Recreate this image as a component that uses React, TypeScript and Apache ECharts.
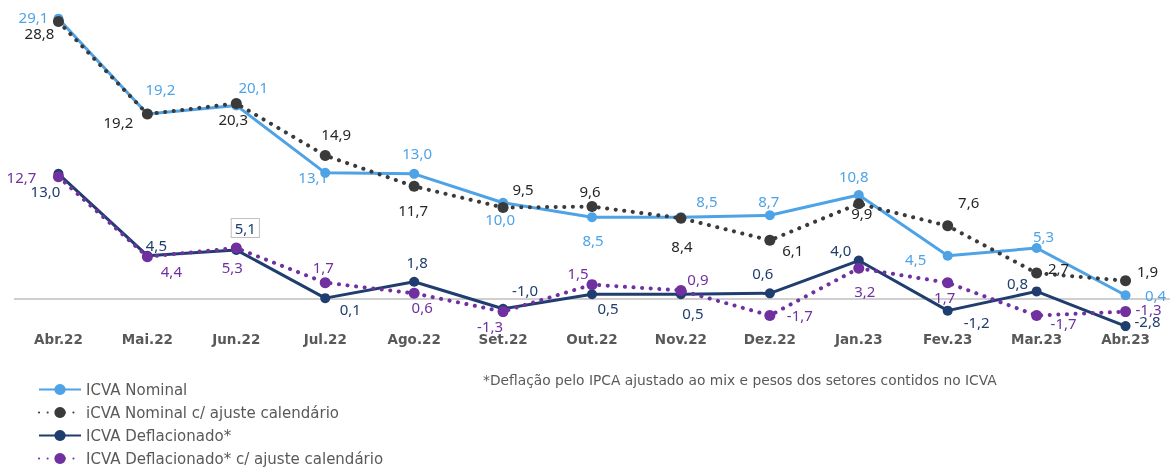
import React, { useEffect, useRef } from "react";
import * as echarts from "echarts";

const categories = ["Abr.22", "Mai.22", "Jun.22", "Jul.22", "Ago.22", "Set.22", "Out.22", "Nov.22", "Dez.22", "Jan.23", "Fev.23", "Mar.23", "Abr.23"];
const nominal = [29.1, 19.2, 20.1, 13.1, 13.0, 10.0, 8.5, 8.5, 8.7, 10.8, 4.5, 5.3, 0.4];
const nominalAjuste = [28.8, 19.2, 20.3, 14.9, 11.7, 9.5, 9.6, 8.4, 6.1, 9.9, 7.6, 2.7, 1.9];
const deflacionado = [13.0, 4.5, 5.1, 0.1, 1.8, -1.0, 0.5, 0.5, 0.6, 4.0, -1.2, 0.8, -2.8];
const deflacionadoAjuste = [12.7, 4.4, 5.3, 1.7, 0.6, -1.3, 1.5, 0.9, -1.7, 3.2, 1.7, -1.7, -1.3];

const seriesNames = [
  "ICVA Nominal",
  "iCVA Nominal c/ ajuste calendário",
  "ICVA Deflacionado*",
  "ICVA Deflacionado* c/ ajuste calendário",
];
const footnote = "*Deflação pelo IPCA ajustado ao mix e pesos dos setores contidos no ICVA";

// label offsets (relative to each point), styling only
const offNominal = [[-25, -2], [13, -25], [17, -18], [-12, 4], [3, -21], [-3, 16], [1, 23], [26, -16], [-1, -14], [-5, -19], [-32, 3], [7, -12], [30, 0]];
const offNominalAjuste = [[-19, 11], [-29, 8], [-3, 16], [11, -22], [-1, 24], [20, -19], [-2, -16], [1, 28], [23, 10], [3, 9], [21, -24], [22, -5], [22, -10]];
const offDefl = [[-13, 17], [9, -11], [9, -22], [25, 11], [3, -20], [22, -19], [16, 14], [12, 19], [-7, -20], [-18, -11], [29, 11], [-19, -8], [22, -5]];
const offDeflAjuste = [[-37, 0], [24, 14], [-4, 19], [-2, -16], [8, 14], [-13, 14], [-14, -12], [17, -11], [30, 0], [6, 23], [-3, 14], [27, 8], [23, -3]];

const FONT = "Noto Sans";
const WIDE = "DejaVu Sans";
const fmt = (v: number) => v.toFixed(1).replace(".", ",");

function buildData(values: number[], offsets: number[][], boxed?: number) {
  return values.map((v, i) => {
    const [dx, dy] = offsets[i];
    const item: any = {
      value: v,
      label: { offset: [dx, dy] },
    };
    if (boxed === i) {
      item.label.backgroundColor = "#ffffff";
      item.label.borderColor = "#bfbfbf";
      item.label.borderWidth = 1;
      item.label.padding = [2, 3, 1, 3];
    }
    return item;
  });
}

export default function App() {
  const ref = useRef<HTMLDivElement>(null);
  useEffect(() => {
    if (!ref.current) return;
    const chart = echarts.init(ref.current, undefined, { renderer: "svg" });
    const colors = ["#4ea3e6", "#3a3a3a", "#1f3d6e", "#7030a0"];
    const labelColors = ["#4ea3e6", "#262626", "#1f3d6e", "#7030a0"];
    const mk = (idx: number, values: number[], offs: number[][], dotted: boolean, boxed?: number) => ({
      name: seriesNames[idx],
      type: "line",
      data: buildData(values, offs, boxed),
      symbol: "circle",
      symbolSize: dotted ? 11 : 10,
      z: 2 + idx,
      itemStyle: { color: colors[idx] },
      lineStyle: dotted
        ? { color: colors[idx], width: 4, type: [0.1, 8.5], cap: "round" }
        : { color: colors[idx], width: 3 },
      label: {
        show: true,
        position: "inside",
        color: labelColors[idx],
        fontFamily: FONT,
        fontSize: 15,
        formatter: (p: any) => fmt(p.value),
      },
    });
    const s0: any = mk(0, nominal, offNominal, false);
    s0.markLine = {
      silent: true,
      symbol: "none",
      label: { show: false },
      lineStyle: { color: "#bfbfbf", width: 1.5, type: "solid" },
      data: [{ yAxis: 0 }],
      z: 1,
    };
    chart.setOption({
      animation: false,
      textStyle: { fontFamily: FONT },
      grid: { left: 14, right: 0, top: 10, height: 318 },
      xAxis: {
        type: "category",
        data: categories,
        axisLine: { show: false },
        axisTick: { show: false },
        axisLabel: { color: "#595959", fontWeight: "bold", fontSize: 13.5, margin: 4, fontFamily: WIDE },
      },
      yAxis: { type: "value", min: -3, max: 30, show: false, splitLine: { show: false } },
      legend: {
        orient: "vertical",
        left: 38,
        top: 382,
        padding: 0,
        itemGap: 8,
        itemWidth: 42,
        itemHeight: 14,
        textStyle: { color: "#595959", fontSize: 15, lineHeight: 15, fontFamily: WIDE },
        data: seriesNames,
      },
      graphic: [
        {
          type: "text",
          left: 483,
          top: 373,
          style: { text: footnote, fontSize: 13.8, fill: "#595959", fontFamily: WIDE },
        },
      ],
      series: [
        s0,
        mk(1, nominalAjuste, offNominalAjuste, true),
        mk(2, deflacionado, offDefl, false, 2),
        mk(3, deflacionadoAjuste, offDeflAjuste, true),
      ],
    });
    return () => chart.dispose();
  }, []);
  return <div ref={ref} style={{ position: "fixed", left: 0, top: 0, width: 1170, height: 468 }} />;
}
